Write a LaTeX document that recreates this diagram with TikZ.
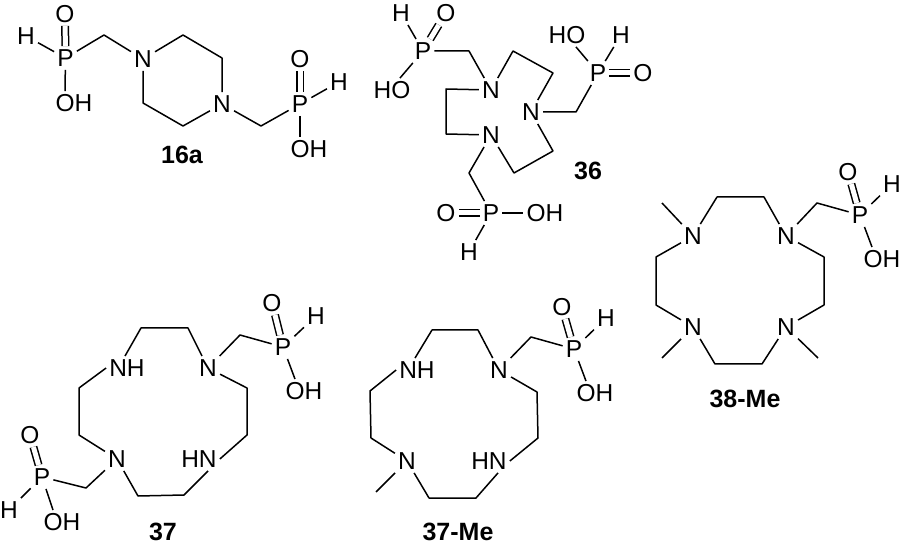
\documentclass[tikz,border=0pt]{standalone}
\usepackage{fontspec}
\setmainfont{Liberation Sans}
\tikzset{
	atom/.style={inner sep=3pt,font=\fontsize{24.5}{26}\selectfont,text height=17.5pt,text depth=0pt},
	cpdname/.style={inner sep=0pt,font=\fontsize{25}{27}\selectfont\bfseries},
	bond/.style={line width=1.5pt,line join=round},
	dbond/.style={line width=1.5pt,double,double distance=5pt}
}
\begin{document}
\begin{tikzpicture}[x=1pt,y=-1pt]
	\useasboundingbox (0,0) rectangle (903,545);
	%16a
	\node [atom] (p1a) at (65.5,58) {P};
	\node [atom] (o1a) at (65,14) {O};
	\node [atom] (h1a) at (26,36) {H};
	\node [atom] (oh1a) at (74,103) {OH};
	\node [atom] (n1a) at (143,59) {N};
	\node [atom] (n2a) at (222,104) {N};
	\node [atom] (p2a) at (300,104) {P};
	\node [atom] (o2a) at (300,59) {O};
	\node [atom] (h2a) at (339,82) {H};
	\node [atom] (oh2a) at (309,149) {OH};
	\coordinate (c1a) at (104,35);
	\coordinate (c2a) at (183,35);
	\coordinate (c3a) at (222,58);
	\coordinate (c4a) at (183,126);
	\coordinate (c5a) at (143,103);
	\coordinate (c6a) at (261,126);
	\draw [dbond] (p1a) -- (o1a);
	\draw [bond] (p1a) -- (h1a);
	\draw [bond] (p1a) -- ([xshift=-9pt]oh1a.north);
	\draw [bond] (p1a) -- (c1a) -- (n1a);
	\draw [bond] (n1a) -- (c2a) -- (c3a) -- (n2a);
	\draw [bond] (n2a) -- (c4a) -- (c5a) -- (n1a);
	\draw [bond] (n2a) -- (c6a) -- (p2a);
	\draw [dbond] (p2a) -- (o2a);
	\draw [bond] (p2a) -- (h2a);
	\draw [bond] (p2a) -- ([xshift=-9pt]oh2a.north);
	\node [cpdname] (name16a) at (182,155) {16a};
	%36
	\node [atom] (p1b) at (423,51) {P};
	\node [atom] (h1b) at (401,13) {H};
	\node [atom] (o1b) at (446,13) {O};
	\node [atom] (ho1b) at (392,90) {HO};
	\node [atom] (n1b) at (491,90) {N};
	\node [atom] (n2b) at (531,112) {N};
	\node [atom] (n3b) at (491,135) {N};
	\node [atom] (p2b) at (598,73) {P};
	\node [atom] (ho2b) at (567,35) {HO};
	\node [atom] (h2b) at (621,35) {H};
	\node [atom] (o2b) at (643,73) {O};
	\node [atom] (p3b) at (491,213) {P};
	\node [atom] (o3b) at (446,213) {O};
	\node [atom] (oh3b) at (545,213) {OH};
	\node [atom] (h3b) at (469,252) {H};
	\coordinate (c1b) at (469,51);
	\coordinate (c2b) at (513,51);
	\coordinate (c3b) at (553,73);
	\coordinate (c4b) at (446,89);
	\coordinate (c5b) at (446,134);
	\coordinate (c6b) at (514,173);
	\coordinate (c7b) at (553,151);
	\coordinate (c8b) at (576,112);
	\coordinate (c9b) at (469,173);
	\draw [bond] (p1b) -- (h1b);
	\draw [dbond] (p1b) -- (o1b);
	\draw [bond] (p1b) -- ([xshift=8pt]ho1b.north);
	\draw [bond] (p1b) -- (c1b) -- (n1b);
	\draw [bond] (n1b) -- (c2b) -- (c3b) -- (n2b);
	\draw [bond] (n1b) -- (c4b) -- (c5b) -- (n3b);
	\draw [bond] (n3b) -- (c6b) -- (c7b) -- (n2b);
	\draw [bond] (n2b) -- (c8b) -- (p2b);
	\draw [bond] (p2b) -- ([xshift=9pt]ho2b.south);
	\draw [bond] (p2b) -- (h2b);
	\draw [dbond] (p2b) -- (o2b);
	\draw [bond] (n3b) -- (c9b) -- (p3b);
	\draw [dbond] (p3b) -- (o3b);
	\draw [bond] (p3b) -- (oh3b);
	\draw [bond] (p3b) -- (h3b);
	\node [cpdname] (name36) at (588,171) {36};
	%38-Me
	\node [atom] (n1c) at (693,236) {N};
	\node [atom] (n2c) at (786,236) {N};
	\node [atom] (n3c) at (693,327) {N};
	\node [atom] (n4c) at (786,327) {N};
	\node [atom] (pc) at (860,215) {P};
	\node [atom] (oc) at (848,172) {O};
	\node [atom] (hc) at (892,184) {H};
	\node [atom] (ohc) at (882,259) {OH};
	\coordinate (c1c) at (717,197);
	\coordinate (c2c) at (764,197);
	\coordinate (c3c) at (824,257);
	\coordinate (c4c) at (824,305);
	\coordinate (c5c) at (762,364);
	\coordinate (c6c) at (715,364);
	\coordinate (c7c) at (656,305);
	\coordinate (c8c) at (656,257);
	\coordinate (me1c) at (662,203);
	\coordinate (me2c) at (662,358);
	\coordinate (me3c) at (818,358);
	\coordinate (c9c) at (817,203);
	\draw [bond] (n1c) -- (c1c) -- (c2c) -- (n2c);
	\draw [bond] (n2c) -- (c3c) -- (c4c) -- (n4c);
	\draw [bond] (n4c) -- (c5c) -- (c6c) -- (n3c);
	\draw [bond] (n3c) -- (c7c) -- (c8c) -- (n1c);
	\draw [bond] (n1c) -- (me1c);
	\draw [bond] (n3c) -- (me2c);
	\draw [bond] (n4c) -- (me3c);
	\draw [bond] (n2c) -- (c9c) -- (pc);
	\draw [dbond] (pc) -- (oc);
	\draw [bond] (pc) -- (hc);
	\draw [bond] (pc) -- ([xshift=-10pt]ohc.north);
	\node [cpdname] (name38) at (745,399) {38-Me};
	%37
	\node [atom] (nh1d) at (127,368) {NH};
	\node [atom] (n1d) at (208,368) {N};
	\node [atom] (nh2d) at (199,459) {HN};
	\node [atom] (n2d) at (117,459) {N};
	\node [atom] (p1d) at (283,347) {P};
	\node [atom] (o1d) at (272,303) {O};
	\node [atom] (h1d) at (316,316) {H};
	\node [atom] (oh1d) at (304,391) {OH};
	\node [atom] (p2d) at (42,477) {P};
	\node [atom] (o2d) at (30,435) {O};
	\node [atom] (h2d) at (9,510) {H};
	\node [atom] (oh2d) at (62,522) {OH};
	\coordinate (c1d) at (141,328);
	\coordinate (c2d) at (188,328);
	\coordinate (c3d) at (247,388);
	\coordinate (c4d) at (247,435);
	\coordinate (c5d) at (184,495);
	\coordinate (c6d) at (138,496);
	\coordinate (c7d) at (79,435);
	\coordinate (c8d) at (79,388);
	\coordinate (c9d) at (240,335);
	\coordinate (c10d) at (86,488);
	\draw [bond] ([xshift=-2pt]nh1d.north) -- (c1d) -- (c2d) -- (n1d);
	\draw [bond] (n1d) -- (c3d) -- (c4d) -- (nh2d.east);
	\draw [bond] ([xshift=9pt]nh2d.south) -- (c5d) -- (c6d) -- (n2d);
	\draw [bond] (n2d) -- (c7d) -- (c8d) -- (nh1d.west);
	\draw [bond] (n1d) -- (c9d) -- (p1d);
	\draw [dbond] (p1d) -- (o1d);
	\draw [bond] (p1d) -- (h1d);
	\draw [bond] (p1d) -- ([xshift=-9pt]oh1d.north);
	\draw [bond] (n2d) -- (c10d) -- (p2d);
	\draw [dbond] (p2d) -- (o2d);
	\draw [bond] (p2d) -- (h2d);
	\draw [bond] (p2d) -- ([xshift=-9pt]oh2d.north);
	\node [cpdname] (name37) at (163,532) {37};
	%37-Me
	\node [atom] (nh1e) at (417,370) {NH};
	\node [atom] (n1e) at (499,370) {N};
	\node [atom] (nh2e) at (489,461) {HN};
	\node [atom] (n2e) at (407,461) {N};
	\node [atom] (pe) at (574,349) {P};
	\node [atom] (oe) at (562,307) {O};
	\node [atom] (he) at (606,318) {H};
	\node [atom] (ohe) at (595,393) {OH};
	\coordinate (c1e) at (432,330);
	\coordinate (c2e) at (478,330);
	\coordinate (c3e) at (537,392);
	\coordinate (c4e) at (538,438);
	\coordinate (c5e) at (476,498);
	\coordinate (c6e) at (429,498);
	\coordinate (c7e) at (371,438);
	\coordinate (c8e) at (370,391);
	\coordinate (c9e) at (531,337);
	\coordinate (mee) at (376,492);
	\draw [bond] ([xshift=-2pt]nh1e.north) -- (c1e) -- (c2e) -- (n1e);
	\draw [bond] (n1e) -- (c3e) -- (c4e) -- (nh2e.east);
	\draw [bond] ([xshift=9pt]nh2e.south) -- (c5e) -- (c6e) -- (n2e);
	\draw [bond] (n2e) -- (c7e) -- (c8e) -- (nh1e.west);
	\draw [bond] (n2e) -- (mee);
	\draw [bond] (n1e) -- (c9e) -- (pe);
	\draw [dbond] (pe) -- (oe);
	\draw [bond] (pe) -- (he);
	\draw [bond] (pe) -- ([xshift=-9pt]ohe.north);
	\node [cpdname] (name37me) at (458,532) {37-Me};
\end{tikzpicture}
\end{document}
